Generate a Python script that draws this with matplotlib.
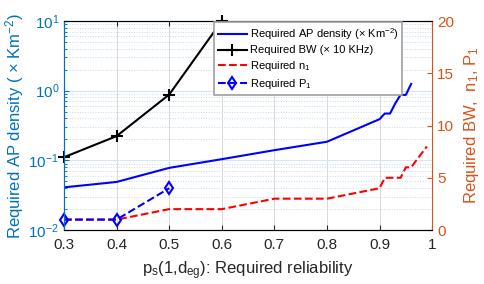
import numpy as np
import matplotlib.pyplot as plt
from matplotlib.lines import Line2D

plt.rcParams['font.family'] = ['Liberation Sans', 'DejaVu Sans']
plt.rcParams['mathtext.fontset'] = 'custom'
plt.rcParams['mathtext.rm'] = 'Liberation Sans'
plt.rcParams['mathtext.it'] = 'Liberation Sans'

# data
x_ap = [0.3, 0.4, 0.5, 0.6, 0.7, 0.8, 0.9, 0.91, 0.92, 0.93, 0.94, 0.95, 0.96]
ap_density = [0.041, 0.049, 0.078, 0.104, 0.14, 0.185, 0.39, 0.47, 0.47, 0.66, 0.87, 0.87, 1.25]

x_bw = [0.3, 0.4, 0.5, 0.6]
bw = [0.111, 0.223, 0.88, 10.0]

x_n1 = [0.3, 0.4, 0.5, 0.6, 0.7, 0.8, 0.9, 0.91, 0.92, 0.93, 0.94, 0.95, 0.96, 0.99]
n1 = [1, 1, 2, 2, 3, 3, 4, 5, 5, 5, 5, 6, 6, 8]

x_p1 = [0.3, 0.4, 0.5]
p1 = [1, 1, 4]

left_col = '#0072BD'
right_col = '#D95319'

fig = plt.figure(figsize=(4.85, 2.84), dpi=100)
ax = fig.add_axes([0.132, 0.19, 0.759, 0.736])
ax2 = ax.twinx()

ax.semilogy(x_ap, ap_density, color='b', lw=1.5)
ax.semilogy(x_bw, bw, color='k', lw=1.5, marker='+', ms=8, mew=1.5, clip_on=False)
ax.set_ylim(1e-2, 1e1)
ax.set_xlim(0.3, 1.0)

ax2.plot(x_n1, n1, color='r', ls='--', lw=1.5)
ax2.plot(x_p1, p1, color='b', ls='--', lw=1.5, marker='d', ms=6, mfc='none', mew=1.5, clip_on=False)
ax2.set_ylim(0, 20)
ax2.set_yticks([0, 5, 10, 15, 20])

ax.set_xticks(np.arange(0.3, 1.01, 0.1))
ax.set_xticklabels(['0.3', '0.4', '0.5', '0.6', '0.7', '0.8', '0.9', '1'])

# grids
ax.grid(True, axis='x', which='major', color='#d9d9d9', lw=0.7)
ax.grid(True, axis='y', which='major', color='#d6e6f2', lw=0.8)
ax.grid(True, axis='y', which='minor', color='#c8dcec', lw=0.7, ls=':')
ax.set_axisbelow(True)

ax.tick_params(axis='both', which='both', direction='in', top=True, labelsize=11)
ax.tick_params(axis='x', colors='#262626', labelcolor='#262626', pad=6)
ax.tick_params(axis='y', which='both', colors=left_col, labelcolor=left_col)
ax2.tick_params(axis='y', direction='in', colors=right_col, labelcolor=right_col, labelsize=11)

for s in ['top', 'bottom']:
    ax.spines[s].set_color('#262626')
ax.spines['left'].set_color(left_col)
ax2.spines['left'].set_color(left_col)
ax2.spines['right'].set_color(right_col)
ax.spines['right'].set_visible(False)

ax.set_xlabel(r'p$_\mathrm{s}$(1,d$_\mathrm{eg}$): Required reliability', fontsize=12, color='#262626', labelpad=5)
ax.set_ylabel('Required AP density ( \u00d7 Km$^{-2}$)', fontsize=12, color=left_col, labelpad=2)
ax2.set_ylabel('Required BW,  n$_1$, P$_1$', fontsize=12, color=right_col, labelpad=6)

handles = [
    Line2D([], [], color='b', lw=1.5),
    Line2D([], [], color='k', lw=1.5, marker='+', ms=8, mew=1.5),
    Line2D([], [], color='r', ls='--', lw=1.5),
    Line2D([], [], color='b', ls='--', lw=1.5, marker='d', ms=6, mfc='none', mew=1.5),
]
labels = ['Required AP density (\u00d7 Km$^{-2}$)', 'Required BW (\u00d7 10 KHz)',
          'Required n$_1$', 'Required P$_1$']
leg = ax2.legend(handles, labels, loc='upper right', bbox_to_anchor=(0.922, 1.0),
                 fontsize=8, frameon=True, fancybox=False, framealpha=1,
                 edgecolor='#a0a0a0', handlelength=2.6, borderpad=0.35,
                 labelspacing=0.33, handletextpad=0.25, borderaxespad=0.1)
leg.get_frame().set_linewidth(1.2)

fig.savefig('out.png', dpi=100)
